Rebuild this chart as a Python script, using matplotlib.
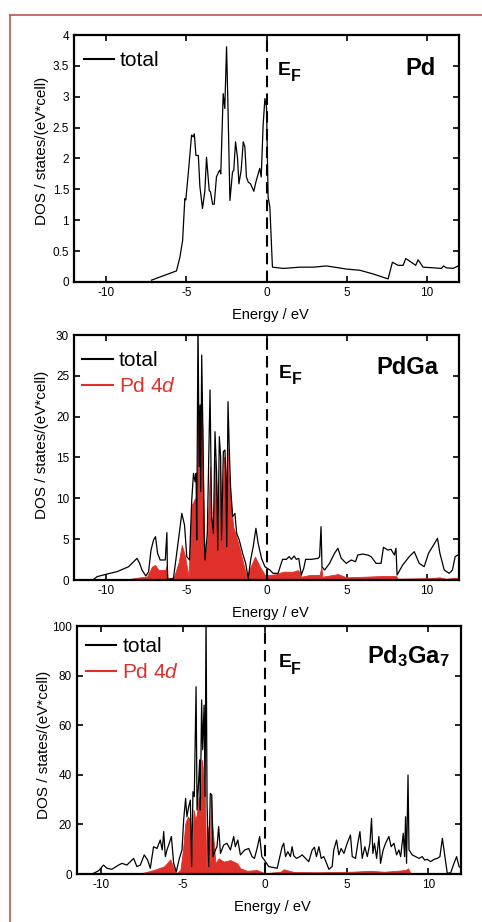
import matplotlib
matplotlib.use("Agg")
import matplotlib.pyplot as plt
from matplotlib.lines import Line2D
import numpy as np

plt.rcParams['font.family'] = ['Liberation Sans', 'DejaVu Sans']
plt.rcParams['mathtext.fontset'] = 'custom'
plt.rcParams['mathtext.rm'] = 'Liberation Sans'
plt.rcParams['mathtext.it'] = 'Liberation Sans:italic'
plt.rcParams['mathtext.bf'] = 'Liberation Sans:bold'
plt.rcParams['axes.unicode_minus'] = False

RED = '#e0302a'

# --- Pd: total DOS ---
pd_e = [-7.17, -5.61, -5.40, -5.23, -5.09, -5.03, -4.88, -4.67, -4.57, -4.50, -4.40, -4.25,
        -4.15, -3.99, -3.84, -3.74, -3.57, -3.49, -3.36, -3.26, -3.12, -2.99, -2.91, -2.85,
        -2.70, -2.60, -2.49, -2.41, -2.28, -2.12, -2.04, -1.93, -1.81, -1.72, -1.58, -1.45,
        -1.35, -1.25, -1.14, -1.00, -0.79, -0.66, -0.52, -0.42, -0.33, -0.21, -0.10, 0.00,
        0.10, 0.21, 0.37, 0.73, 1.04, 2.08, 2.91, 3.74, 4.98, 5.82, 6.65, 7.58, 7.85, 8.20,
        8.52, 8.68, 9.14, 9.30, 9.45, 9.76, 10.38, 10.90, 11.04, 11.21, 11.63, 11.96]
pd_tot = [0.03, 0.18, 0.40, 0.67, 1.35, 1.33, 1.75, 2.38, 2.35, 2.40, 2.05, 2.05,
          1.54, 1.19, 1.48, 2.02, 1.48, 1.46, 1.26, 1.26, 1.70, 1.78, 1.81, 1.75,
          3.05, 2.81, 3.81, 2.94, 1.32, 1.78, 1.81, 2.27, 2.02, 1.59, 1.81, 2.27,
          2.19, 1.70, 1.62, 1.59, 1.47, 1.62, 1.75, 1.84, 1.70, 2.54, 2.97, 2.83,
          1.38, 1.21, 0.24, 0.23, 0.22, 0.24, 0.24, 0.26, 0.21, 0.19, 0.13, 0.05, 0.32, 0.27,
          0.27, 0.38, 0.30, 0.27, 0.36, 0.24, 0.23, 0.22, 0.26, 0.23, 0.22, 0.26]

# --- PdGa: total DOS ---
pdga_e = [-10.77, -10.56, -9.94, -9.32, -8.59, -8.39, -8.07, -7.91, -7.76, -7.52, -7.35, -7.20,
          -7.04, -6.92, -6.79, -6.63, -6.31, -6.21, -6.17, -5.80, -5.49, -5.28, -5.11, -4.97,
          -4.80, -4.66, -4.55, -4.45, -4.39, -4.35, -4.27, -4.20, -4.14, -4.10, -4.04, -3.97,
          -3.89, -3.83, -3.69, -3.52, -3.42, -3.31, -3.21, -3.11, -3.04, -2.94, -2.86, -2.80,
          -2.69, -2.59, -2.53, -2.48, -2.40, -2.32, -2.24, -2.11, -1.97, -1.86, -1.70, -1.49,
          -1.30, -1.14, -0.99, -0.83, -0.66, -0.52, -0.31, -0.10, 0.21, 0.41, 0.72, 1.00,
          1.24, 1.41, 1.55, 1.72, 1.86, 2.01, 2.17, 2.32, 2.44, 2.80, 3.21, 3.31, 3.40, 3.46,
          3.62, 3.93, 4.24, 4.45, 4.66, 4.97, 5.28, 5.55, 5.69, 6.00, 6.31, 6.52, 6.83, 7.14,
          7.29, 7.56, 7.76, 7.97, 8.07, 8.14, 8.49, 8.90, 9.21, 9.52, 9.83, 10.10, 10.35,
          10.66, 10.81, 11.08, 11.39, 11.59, 11.76, 11.93]
pdga_tot = [0.08, 0.41, 0.73, 1.02, 1.63, 2.04, 2.65, 2.04, 1.22, 0.49, 1.02, 3.67,
            4.90, 5.31, 3.27, 2.45, 2.45, 5.80, 0.08, 0.20, 4.90, 8.16, 6.73, 2.86,
            2.45, 9.80, 13.06, 12.04, 13.06, 4.90, 32.0, 13.88, 21.43, 10.82, 27.55, 18.78,
            5.71, 2.45, 5.71, 23.27, 7.76, 5.71, 18.16, 13.06, 3.67, 17.55, 15.10, 4.90,
            15.71, 15.92, 12.24, 4.08, 21.84, 15.92, 11.43, 7.76, 8.16, 5.71, 4.90, 3.27,
            2.04, 0.20, 2.45, 4.08, 6.33, 4.49, 2.65, 1.63, 1.22, 0.82, 0.82, 2.53,
            2.53, 2.86, 2.53, 2.94, 2.53, 2.65, 0.61, 1.43, 2.53, 2.53, 2.65, 2.86, 6.53, 1.63,
            1.22, 2.04, 3.27, 3.88, 2.65, 2.04, 2.45, 2.24, 3.06, 3.18, 3.06, 2.86, 2.04, 2.04,
            4.00, 3.67, 3.76, 3.06, 3.88, 0.61, 1.84, 2.86, 3.47, 2.04, 1.63, 3.27, 4.08,
            5.10, 3.27, 1.22, 0.82, 1.22, 2.86, 3.06]

# --- PdGa: Pd 4d ---
pdga_d_e = [-10.77, -8.70, -7.87, -7.45, -7.14, -6.94, -6.73, -6.31, -6.21, -6.15, -5.80, -5.49,
            -5.28, -5.07, -4.86, -4.66, -4.45, -4.35, -4.27, -4.18, -4.10, -4.00, -3.89, -3.83,
            -3.69, -3.52, -3.42, -3.31, -3.21, -3.11, -3.00, -2.90, -2.80, -2.65, -2.53, -2.44,
            -2.32, -2.07, -1.76, -1.45, -1.24, -0.99, -0.72, -0.41, -0.10, 0.21, 0.62, 1.04,
            1.66, 1.97, 2.17, 2.69, 3.31, 3.42, 3.48, 4.14, 4.45, 4.97, 6.21, 7.25, 8.07, 8.18,
            9.32, 10.35, 10.77, 11.18, 11.93]
pdga_d = [0.00, 0.08, 0.33, 0.41, 1.63, 1.84, 1.22, 1.22, 1.84, 0.00, 0.20, 2.04,
          4.29, 2.86, 0.41, 9.18, 10.00, 4.08, 22.0, 13.06, 21.6, 18.8, 5.71, 2.45,
          4.90, 13.9, 7.35, 5.71, 14.7, 11.43, 4.08, 14.3, 4.90, 15.1, 11.4, 16.3,
          11.4, 6.5, 4.49, 2.04, 0.41, 1.63, 2.86, 1.63, 0.61, 0.61, 0.73, 1.02,
          1.02, 1.22, 0.41, 0.61, 0.61, 1.63, 0.41, 0.61, 0.73, 0.33, 0.41, 0.49, 0.49, 0.16,
          0.20, 0.24, 0.33, 0.16, 0.29]

# --- Pd3Ga7: total DOS ---
pd3ga7_e = [-10.47, -10.16, -9.86, -9.65, -9.35, -8.94, -8.73, -8.43, -8.02, -7.82, -7.61, -7.37,
            -7.16, -7.00, -6.80, -6.59, -6.39, -6.27, -6.18, -6.08, -5.98, -5.84, -5.71, -5.57,
            -5.41, -5.22, -5.06, -4.96, -4.84, -4.76, -4.65, -4.55, -4.47, -4.39, -4.31, -4.20,
            -4.14, -4.04, -3.98, -3.94, -3.86, -3.80, -3.71, -3.65, -3.59, -3.53, -3.43, -3.33,
            -3.24, -3.16, -3.02, -2.92, -2.82, -2.71, -2.51, -2.31, -2.10, -1.90, -1.80, -1.65,
            -1.49, -1.22, -0.98, -0.78, -0.63, -0.47, -0.31, -0.18, 0.00, 0.24, 0.45, 0.76,
            0.92, 1.06, 1.16, 1.27, 1.41, 1.57, 1.67, 1.78, 1.94, 2.14, 2.29, 2.49, 2.69, 2.90,
            3.04, 3.16, 3.31, 3.45, 3.61, 3.78, 3.92, 4.12, 4.22, 4.39, 4.53, 4.67, 4.84, 5.04,
            5.24, 5.35, 5.55, 5.69, 5.82, 5.96, 6.12, 6.27, 6.43, 6.53, 6.61, 6.71, 6.84, 6.98,
            7.08, 7.24, 7.39, 7.59, 7.73, 7.90, 8.06, 8.20, 8.31, 8.47, 8.55, 8.61, 8.67, 8.76,
            8.82, 9.02, 9.22, 9.43, 9.63, 9.78, 9.94, 10.14, 10.35, 10.55, 10.71, 10.86, 11.00,
            11.16, 11.37, 11.57, 11.73, 11.88, 12.04]
pd3ga7_tot = [0.27, 1.3, 3.6, 2.3, 1.9, 3.6, 4.3, 3.6, 6.3, 3.0, 3.6, 7.7,
              5.6, 2.3, 11.0, 10.3, 13.7, 9.7, 17.1, 7.0, 9.7, 12.4, 15.1, 4.3,
              0.9, 6.3, 9.7, 21.8, 30.5, 23.1, 27.2, 29.8, 3.0, 33.2, 31.2, 75.5,
              25.8, 37.9, 46.0, 25.8, 70.2, 50.1, 68.1, 31.2, 105.0, 28.5, 3.0, 32.5,
              31.9, 7.0, 9.7, 11.0, 19.1, 8.3, 11.7, 12.4, 9.7, 15.1, 11.0, 13.7,
              7.7, 9.7, 10.3, 7.0, 6.3, 10.3, 15.1, 7.0, 5.4, 3.0, 2.7, 2.3,
              7.0, 11.0, 12.4, 7.0, 9.0, 7.0, 11.0, 7.3, 6.3, 7.0, 7.7, 6.3, 5.0, 9.7,
              10.8, 7.0, 11.0, 6.3, 7.0, 4.3, 1.9, 3.0, 9.7, 13.7, 7.7, 10.3, 8.3, 12.4,
              15.7, 7.0, 6.3, 12.4, 17.1, 6.3, 11.0, 7.0, 12.4, 22.4, 8.3, 12.4, 6.3, 15.1,
              4.3, 9.7, 12.4, 15.1, 11.0, 12.4, 7.7, 9.7, 7.0, 16.4, 7.0, 23.1, 4.3, 39.9,
              9.7, 7.7, 7.0, 6.3, 7.0, 5.6, 5.9, 5.0, 5.9, 6.3, 7.0, 14.4, 7.7,
              0.3, 0.5, 4.3, 7.0, 3.0, 2.3]

# --- Pd3Ga7: Pd 4d ---
pd3ga7_d_e = [-10.47, -8.02, -7.41, -6.80, -6.49, -6.18, -5.98, -5.78, -5.61, -5.41, -5.16, -5.00,
              -4.86, -4.71, -4.59, -4.47, -4.35, -4.24, -4.14, -4.04, -3.94, -3.84, -3.73, -3.65,
              -3.57, -3.49, -3.37, -3.29, -3.20, -3.02, -2.82, -2.51, -2.10, -1.69, -1.49, -1.08,
              -0.47, 0.00, 0.96, 1.16, 1.78, 3.20, 4.22, 5.24, 6.47, 7.29, 8.10, 8.61, 8.76, 8.92,
              10.35, 12.04]
pd3ga7_d = [0.0, 0.3, 0.5, 1.6, 2.3, 3.0, 4.3, 5.9, 3.0, 0.3, 1.6, 9.7,
            20.4, 23.1, 22.4, 3.0, 25.8, 21.8, 24.5, 31.2, 23.1, 46.0, 39.2, 28.5,
            1.6, 19.1, 4.3, 31.2, 19.1, 4.3, 6.3, 5.0, 5.6, 4.3, 2.3, 1.3,
            1.6, 0.3, 0.9, 1.9, 0.8, 0.7, 0.8, 0.9, 1.3, 0.9, 1.3, 1.6, 2.3, 0.3,
            0.3, 0.1]

fig = plt.figure(figsize=(4.82, 9.22), dpi=100)

# red frame around figure
fig.add_artist(Line2D([10 / 482, 10 / 482], [0, 1 - 15 / 922], transform=fig.transFigure,
                      color='#b5565a', lw=1.2))
fig.add_artist(Line2D([10 / 482, 1], [1 - 15 / 922, 1 - 15 / 922], transform=fig.transFigure,
                      color='#b5565a', lw=1.2))

ax1 = fig.add_axes([74 / 482, 1 - 282 / 922, 385 / 482, 247 / 922])
ax2 = fig.add_axes([74 / 482, 1 - 580 / 922, 385 / 482, 245 / 922])
ax3 = fig.add_axes([76.7 / 482, 1 - 874 / 922, 384.3 / 482, 248 / 922])


def style(ax, ylim, yticks, yticklabels, xlim, ylab_y):
    ax.set_xlim(*xlim)
    ax.set_ylim(*ylim)
    ax.set_xticks([-10, -5, 0, 5, 10])
    ax.set_yticks(yticks)
    ax.set_yticklabels(yticklabels)
    ax.tick_params(direction='in', top=True, right=True, length=4, width=1.2,
                   labelsize=8.5, pad=3.5)
    for s in ax.spines.values():
        s.set_linewidth(1.6)
    ax.axvline(0, color='black', lw=1.5, ls=(0, (5.5, 3)), zorder=4)
    ax.set_xlabel('Energy / eV', fontsize=10.5)
    ax.set_ylabel('DOS / states/(eV*cell)', fontsize=11)
    ax.xaxis.set_label_coords(0.51, -0.105)
    ax.yaxis.set_label_coords(-0.066, ylab_y)


def fermi(ax, ex, ey, fx, fy):
    ax.text(ex, ey, 'E', transform=ax.transAxes, fontsize=14, fontweight='bold',
            ha='left', va='baseline')
    ax.text(fx, fy, 'F', transform=ax.transAxes, fontsize=11.5, fontweight='bold',
            ha='left', va='baseline')


leg_kw = dict(loc='upper left', frameon=False, fontsize=15, handlelength=1.45,
              handletextpad=0.3, borderaxespad=0, borderpad=0, labelspacing=0.35)

# Pd
style(ax1, (0, 4), [0, 0.5, 1, 1.5, 2, 2.5, 3, 3.5, 4],
      ['0', '0.5', '1', '1.5', '2', '2.5', '3', '3.5', '4'], (-12, 12), 0.532)
ax1.plot(pd_e, pd_tot, color='black', lw=0.9, label='total')
ax1.legend(handles=[Line2D([], [], color='black', lw=1.5)], labels=['total'],
           bbox_to_anchor=(0.025, 0.935), **leg_kw)
ax1.text(0.901, 0.84, 'Pd', transform=ax1.transAxes, fontsize=17, fontweight='bold',
         ha='center', va='baseline')
fermi(ax1, 0.530, 0.838, 0.563, 0.815)

# PdGa
style(ax2, (0, 30), [0, 5, 10, 15, 20, 25, 30], ['0', '5', '10', '15', '20', '25', '30'],
      (-12, 12), 0.551)
ax2.fill_between(pdga_d_e, 0, pdga_d, color=RED, lw=0.6, zorder=2)
ax2.plot(pdga_e, pdga_tot, color='black', lw=0.9, zorder=3)
h2 = [Line2D([], [], color='black', lw=1.5), Line2D([], [], color=RED, lw=1.5)]
ax2.legend(h2, ['total', r'Pd 4$\mathit{d}$'], bbox_to_anchor=(0.022, 0.935),
           labelcolor=['black', RED], **leg_kw)
ax2.text(0.865, 0.841, 'PdGa', transform=ax2.transAxes, fontsize=17, fontweight='bold',
         ha='center', va='baseline')
fermi(ax2, 0.533, 0.823, 0.566, 0.800)

# Pd3Ga7
style(ax3, (0, 100), [0, 20, 40, 60, 80, 100], ['0', '20', '40', '60', '80', '100'],
      (-11.5, 12), 0.522)
ax3.fill_between(pd3ga7_d_e, 0, pd3ga7_d, color=RED, lw=0.6, zorder=2)
ax3.plot(pd3ga7_e, pd3ga7_tot, color='black', lw=0.9, zorder=3)
h3 = [Line2D([], [], color='black', lw=1.5), Line2D([], [], color=RED, lw=1.5)]
ax3.legend(h3, ['total', r'Pd 4$\mathit{d}$'], bbox_to_anchor=(0.024, 0.955),
           labelcolor=['black', RED], **leg_kw)
ax3.text(0.755, 0.851, r'$\mathbf{Pd_3Ga_7}$', transform=ax3.transAxes, fontsize=17,
         ha='left', va='baseline')
fermi(ax3, 0.525, 0.833, 0.557, 0.806)

fig.savefig('out.png', dpi=100)
